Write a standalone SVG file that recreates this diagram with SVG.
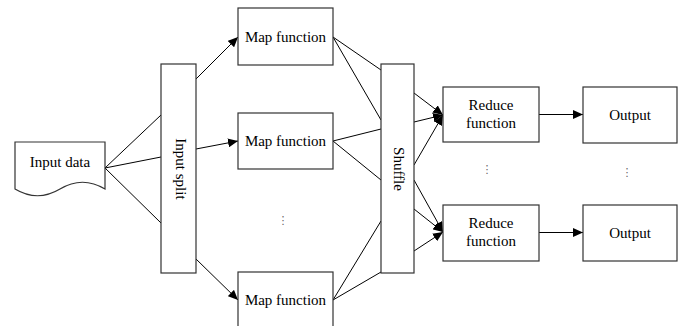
<svg xmlns="http://www.w3.org/2000/svg" width="681" height="326" viewBox="0 0 681 326">
<defs>
<marker id="ah" markerUnits="userSpaceOnUse" markerWidth="11" markerHeight="9" refX="10" refY="4.5" orient="auto">
<path d="M0,0 L10,4.5 L0,9 Z" fill="#000"/>
</marker>
<style>
.box{fill:#fff;stroke:#333;stroke-width:1.2}
.t{font-family:"Liberation Serif","Times New Roman",serif;font-size:15px;fill:#000;text-anchor:middle}
.dots{font-family:"DejaVu Sans",sans-serif;font-size:11px;fill:#666;text-anchor:middle}
.ln{stroke:#000;stroke-width:1;fill:none}
.ar{stroke:#000;stroke-width:1;fill:none;marker-end:url(#ah)}
</style>
</defs>
<rect width="681" height="326" fill="#fff"/>
<g id="connectors">
<line class="ln" x1="105" y1="168" x2="161" y2="115"/>
<line class="ln" x1="105" y1="168" x2="161" y2="157"/>
<line class="ln" x1="105" y1="168" x2="161" y2="223"/>
<line class="ar" x1="196" y1="79" x2="238" y2="37"/>
<line class="ar" x1="196" y1="149" x2="238" y2="141"/>
<line class="ar" x1="196" y1="259" x2="238" y2="300"/>
<line class="ln" x1="333" y1="37" x2="381" y2="70"/>
<line class="ln" x1="333" y1="37" x2="381" y2="120"/>
<line class="ln" x1="333" y1="141" x2="381" y2="129"/>
<line class="ln" x1="333" y1="141" x2="381" y2="180"/>
<line class="ln" x1="333" y1="300" x2="381" y2="221"/>
<line class="ln" x1="333" y1="300" x2="381" y2="272"/>
<line class="ar" x1="414" y1="93" x2="443" y2="115"/>
<line class="ar" x1="414" y1="122" x2="443" y2="115"/>
<line class="ar" x1="414" y1="165" x2="443" y2="115"/>
<line class="ar" x1="414" y1="180" x2="443" y2="232"/>
<line class="ar" x1="414" y1="209" x2="443" y2="232"/>
<line class="ar" x1="414" y1="251" x2="443" y2="232"/>
<line class="ar" x1="539" y1="114.5" x2="583" y2="114.5"/>
<line class="ar" x1="539" y1="232.5" x2="583" y2="232.5"/>
</g>
<g id="input-data">
<path class="box" d="M15,142 H105 V189 C90,180 75,180 60,189 C45,198 30,198 15,189 Z"/>
<text class="t" x="60" y="167">Input data</text>
</g>
<g id="input-split">
<rect class="box" x="161" y="64" width="35" height="209"/>
<text class="t" x="176" y="169" transform="rotate(90 176 169)">Input split</text>
</g>
<g id="map1">
<rect class="box" x="238" y="8" width="95" height="57"/>
<text class="t" x="285.5" y="42">Map function</text>
</g>
<g id="map2">
<rect class="box" x="238" y="113" width="95" height="56"/>
<text class="t" x="285.5" y="146">Map function</text>
</g>
<g id="map3">
<rect class="box" x="238" y="272" width="95" height="56"/>
<text class="t" x="285.5" y="305">Map function</text>
</g>
<g id="map-dots"><text class="dots" x="283" y="224">⋮</text></g>
<g id="shuffle">
<rect class="box" x="381" y="64" width="33" height="209"/>
<text class="t" x="394" y="169" transform="rotate(90 394 169)">Shuffle</text>
</g>
<g id="reduce1">
<rect class="box" x="443" y="87" width="96" height="55"/>
<text class="t" x="491" y="110">Reduce</text>
<text class="t" x="491" y="128">function</text>
</g>
<g id="reduce2">
<rect class="box" x="443" y="205" width="96" height="56"/>
<text class="t" x="491" y="228">Reduce</text>
<text class="t" x="491" y="246">function</text>
</g>
<g id="reduce-dots"><text class="dots" x="487" y="173">⋮</text></g>
<g id="output1">
<rect class="box" x="583" y="87" width="94" height="56"/>
<text class="t" x="630" y="120">Output</text>
</g>
<g id="output2">
<rect class="box" x="583" y="205" width="94" height="56"/>
<text class="t" x="630" y="238">Output</text>
</g>
<g id="output-dots"><text class="dots" x="627" y="176">⋮</text></g>
</svg>
